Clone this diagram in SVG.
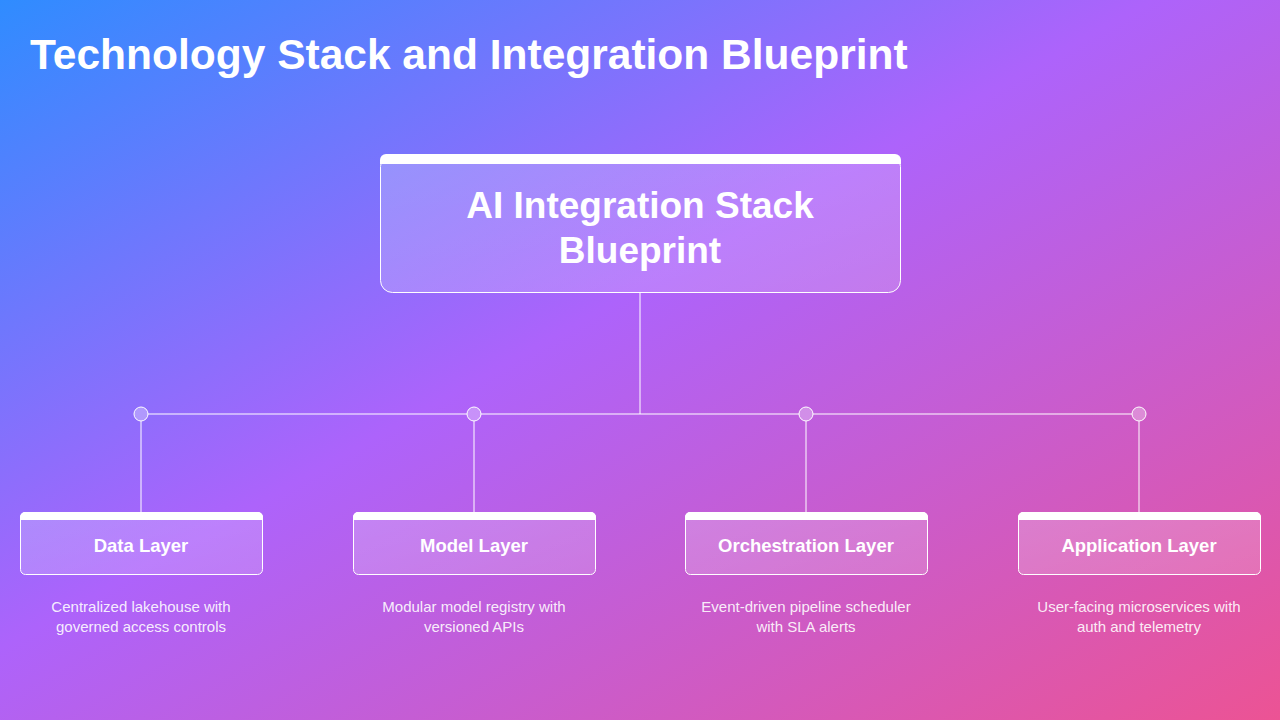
<svg xmlns="http://www.w3.org/2000/svg" width="1280" height="720" viewBox="0 0 1280 720">
<defs>
<linearGradient id="bg" x1="0" y1="0" x2="1" y2="1">
<stop offset="0" stop-color="#2f8cff"/>
<stop offset="0.45" stop-color="#ad63fb"/>
<stop offset="1" stop-color="#ec5394"/>
</linearGradient>
<linearGradient id="card" x1="0" y1="0" x2="1" y2="1">
<stop offset="0" stop-color="#ffffff" stop-opacity="0.22"/>
<stop offset="1" stop-color="#ffffff" stop-opacity="0.16"/>
</linearGradient>
</defs>
<style>
.box{fill:url(#card);stroke:#fff;stroke-width:1;}
.bar{fill:#fff;}
.ln{stroke:#fff;stroke-width:1;fill:none;}
.dot{fill:#ffffff;fill-opacity:0.3;stroke:#fff;stroke-width:1;}
text{font-family:"Liberation Sans",Arial,sans-serif;fill:#fff;text-anchor:middle;}
.h{font-weight:bold;font-size:18.5px;}
.d{font-size:15px;fill-opacity:0.9;}
</style>
<rect width="1280" height="720" fill="url(#bg)"/>
<text x="30" y="69" style="text-anchor:start;font-size:42.5px;font-weight:bold">Technology Stack and Integration Blueprint</text>
<g id="connectors">
<path class="ln" d="M640 292V414M148 414H467M481 414H799M813 414H1132M141 421V512M474 421V512M806 421V512M1139 421V512"/>
<circle class="dot" cx="141" cy="414" r="7"/>
<circle class="dot" cx="474" cy="414" r="7"/>
<circle class="dot" cx="806" cy="414" r="7"/>
<circle class="dot" cx="1139" cy="414" r="7"/>
</g>
<g id="root">
<rect class="box" x="380.5" y="154.5" width="520" height="138" rx="12"/>
<path class="bar" d="M386 154H895a6 6 0 0 1 6 6v4H380v-4a6 6 0 0 1 6-6z"/>
<text x="640" y="218" style="font-size:37px;font-weight:bold">AI Integration Stack</text>
<text x="640" y="263" style="font-size:37px;font-weight:bold">Blueprint</text>
</g>
<g id="data">
<rect class="box" x="20.5" y="512.5" width="242" height="62" rx="5"/>
<path class="bar" d="M25 512H258a5 5 0 0 1 5 5v3H20v-3a5 5 0 0 1 5-5z"/>
<text class="h" x="141" y="552">Data Layer</text>
<text class="d" x="141" y="612">Centralized lakehouse with</text>
<text class="d" x="141" y="632">governed access controls</text>
</g>
<g id="model">
<rect class="box" x="353.5" y="512.5" width="242" height="62" rx="5"/>
<path class="bar" d="M358 512H591a5 5 0 0 1 5 5v3H353v-3a5 5 0 0 1 5-5z"/>
<text class="h" x="474" y="552">Model Layer</text>
<text class="d" x="474" y="612">Modular model registry with</text>
<text class="d" x="474" y="632">versioned APIs</text>
</g>
<g id="orchestration">
<rect class="box" x="685.5" y="512.5" width="242" height="62" rx="5"/>
<path class="bar" d="M690 512H923a5 5 0 0 1 5 5v3H685v-3a5 5 0 0 1 5-5z"/>
<text class="h" x="806" y="552">Orchestration Layer</text>
<text class="d" x="806" y="612">Event-driven pipeline scheduler</text>
<text class="d" x="806" y="632">with SLA alerts</text>
</g>
<g id="application">
<rect class="box" x="1018.5" y="512.5" width="242" height="62" rx="5"/>
<path class="bar" d="M1023 512H1256a5 5 0 0 1 5 5v3H1018v-3a5 5 0 0 1 5-5z"/>
<text class="h" x="1139" y="552">Application Layer</text>
<text class="d" x="1139" y="612">User-facing microservices with</text>
<text class="d" x="1139" y="632">auth and telemetry</text>
</g>
</svg>
